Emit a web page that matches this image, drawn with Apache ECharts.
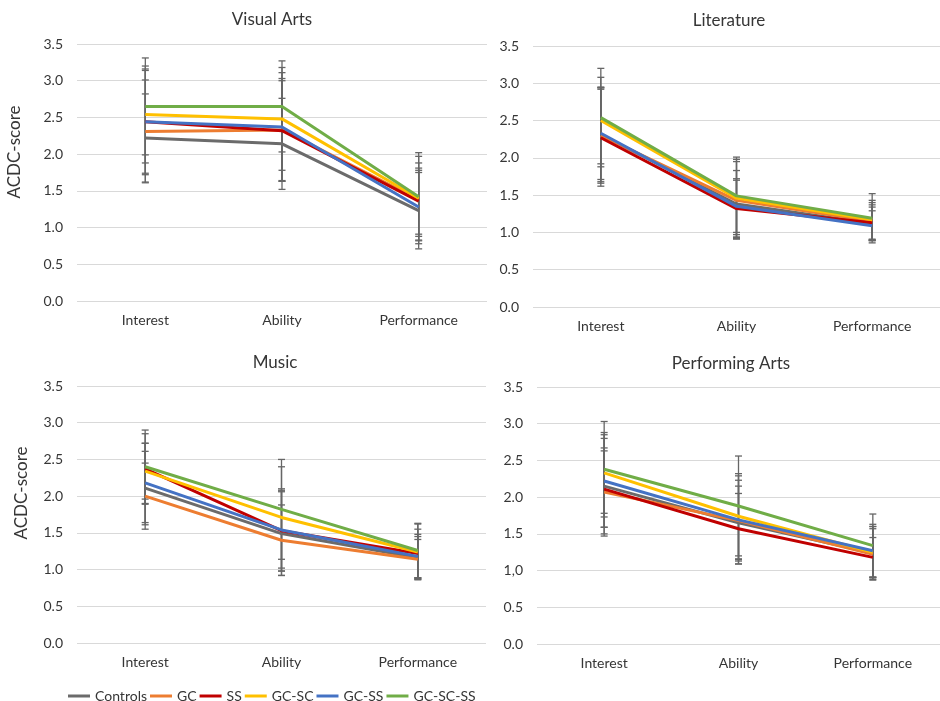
<!DOCTYPE html>
<html>
<head>
<meta charset="utf-8">
<script src="https://cdn.jsdelivr.net/npm/echarts@6/dist/echarts.min.js"></script>
<style>
  html, body { margin: 0; padding: 0; background: #fff; }
  #chart { width: 940px; height: 701px; }
</style>
</head>
<body>
<div id="chart"></div>
<script>
// categories and groups
const categories = ['Interest', 'Ability', 'Performance']
const groups = ['Controls', 'GC', 'SS', 'GC-SC', 'GC-SS', 'GC-SC-SS']
const groupColors = ['#6b6b6b', '#ed7d31', '#c00000', '#ffc000', '#4472c4', '#70ad47']
const panelTitles = ['Visual Arts', 'Literature', 'Music', 'Performing Arts']
const yTicks = ['0.0', '0.5', '1.0', '1.5', '2.0', '2.5', '3.0', '3.5']
const yTicksPerforming = ['0.0', '0.5', '1,0', '1.5', '2.0', '2.5', '3.0', '3.5']

// means per group (rows follow `groups`), columns follow `categories`
const visualArtsMean = [
  [2.22, 2.14, 1.23],
  [2.31, 2.33, 1.38],
  [2.44, 2.32, 1.36],
  [2.54, 2.48, 1.40],
  [2.44, 2.37, 1.28],
  [2.65, 2.65, 1.42]
]
const visualArtsSd = [
  [0.60, 0.62, 0.52],
  [0.70, 0.70, 0.50],
  [0.72, 0.68, 0.45],
  [0.66, 0.70, 0.57],
  [0.70, 0.74, 0.50],
  [0.66, 0.62, 0.60]
]

const literatureMean = [
  [2.31, 1.38, 1.12],
  [2.30, 1.43, 1.15],
  [2.27, 1.32, 1.13],
  [2.50, 1.46, 1.17],
  [2.33, 1.35, 1.09],
  [2.54, 1.49, 1.19]
]
const literatureSd = [
  [0.63, 0.45, 0.22],
  [0.64, 0.52, 0.25],
  [0.65, 0.40, 0.24],
  [0.58, 0.52, 0.26],
  [0.62, 0.35, 0.20],
  [0.66, 0.52, 0.33]
]

const musicMean = [
  [2.11, 1.49, 1.16],
  [2.00, 1.40, 1.14],
  [2.37, 1.53, 1.22],
  [2.34, 1.71, 1.24],
  [2.18, 1.54, 1.18],
  [2.40, 1.82, 1.26]
]
const musicSd = [
  [0.50, 0.57, 0.29],
  [0.45, 0.48, 0.27],
  [0.48, 0.55, 0.33],
  [0.38, 0.69, 0.38],
  [0.54, 0.56, 0.30],
  [0.50, 0.68, 0.37]
]

const performingArtsMean = [
  [2.15, 1.65, 1.24],
  [2.07, 1.68, 1.22],
  [2.11, 1.57, 1.18],
  [2.33, 1.74, 1.25],
  [2.22, 1.69, 1.27],
  [2.38, 1.88, 1.34]
]
const performingArtsSd = [
  [0.65, 0.50, 0.36],
  [0.60, 0.55, 0.35],
  [0.52, 0.48, 0.27],
  [0.55, 0.58, 0.35],
  [0.63, 0.60, 0.36],
  [0.65, 0.68, 0.43]
]

const panels = [
  { title: panelTitles[0], mean: visualArtsMean, sd: visualArtsSd, ticks: yTicks,
    grid: { left: 77, top: 44, width: 410, height: 257 }, titleX: 267, titleY: 6 },
  { title: panelTitles[1], mean: literatureMean, sd: literatureSd, ticks: yTicks,
    grid: { left: 533, top: 46, width: 409, height: 261 }, titleX: 724, titleY: 7 },
  { title: panelTitles[2], mean: musicMean, sd: musicSd, ticks: yTicks,
    grid: { left: 77, top: 386, width: 409, height: 257 }, titleX: 270, titleY: 349 },
  { title: panelTitles[3], mean: performingArtsMean, sd: performingArtsSd, ticks: yTicksPerforming,
    grid: { left: 537, top: 387, width: 407, height: 257 }, titleX: 726, titleY: 350 }
]

const FONT = 'Lato, "Open Sans", sans-serif'
const TEXT = '#363636'

function errorBarItem(params, api) {
  const x = api.value(0)
  const lo = api.coord([x, api.value(1)])
  const hi = api.coord([x, api.value(2)])
  const cap = 3.5
  const style = { stroke: '#666666', lineWidth: 1.3 }
  return {
    type: 'group',
    children: [
      { type: 'line', shape: { x1: lo[0], y1: lo[1], x2: hi[0], y2: hi[1] }, style },
      { type: 'line', shape: { x1: lo[0] - cap, y1: lo[1], x2: lo[0] + cap, y2: lo[1] }, style },
      { type: 'line', shape: { x1: hi[0] - cap, y1: hi[1], x2: hi[0] + cap, y2: hi[1] }, style }
    ]
  }
}

const lineSeries = []
const errorSeries = []
panels.forEach((p, pi) => {
  groups.forEach((g, gi) => {
    lineSeries.push({
      name: g,
      type: 'line',
      xAxisIndex: pi,
      yAxisIndex: pi,
      data: p.mean[gi],
      symbol: 'none',
      z: 3,
      color: groupColors[gi],
      lineStyle: { width: 3, color: groupColors[gi] },
      emphasis: { disabled: true }
    })
    errorSeries.push({
      name: g,
      type: 'custom',
      xAxisIndex: pi,
      yAxisIndex: pi,
      z: 2,
      silent: true,
      renderItem: errorBarItem,
      data: p.mean[gi].map((m, ci) => [ci, m - p.sd[gi][ci], m + p.sd[gi][ci]])
    })
  })
})

const option = {
  animation: false,
  backgroundColor: '#ffffff',
  textStyle: { fontFamily: FONT },
  title: panels.map((p) => ({
    text: p.title,
    left: p.titleX,
    top: p.titleY,
    textAlign: 'center',
    textStyle: { fontFamily: FONT, fontSize: 17, fontWeight: 'normal', color: TEXT }
  })),
  legend: {
    left: 63,
    top: 684,
    itemWidth: 22,
    itemHeight: 3,
    itemGap: 3,
    icon: 'rect',
    data: groups,
    textStyle: { fontFamily: FONT, fontSize: 14, color: TEXT }
  },
  grid: panels.map((p) => Object.assign({}, p.grid)),
  xAxis: panels.map((p, pi) => ({
    type: 'category',
    gridIndex: pi,
    data: categories,
    axisLine: { show: false },
    axisTick: { show: false },
    axisLabel: { margin: 12, fontSize: 14, color: TEXT, fontFamily: FONT }
  })),
  yAxis: panels.map((p, pi) => ({
    type: 'value',
    gridIndex: pi,
    min: 0,
    max: 3.5,
    interval: 0.5,
    axisLine: { show: false },
    axisTick: { show: false },
    splitLine: { lineStyle: { color: '#d9d9d9', width: 1 } },
    axisLabel: {
      margin: 14,
      fontSize: 14,
      color: TEXT,
      fontFamily: FONT,
      formatter: (v) => p.ticks[Math.round(v / 0.5)]
    }
  })),
  graphic: [
    { type: 'text', x: 15, y: 152, rotation: Math.PI / 2,
      style: { text: 'ACDC-score', fontSize: 17, fontFamily: FONT, fill: TEXT, align: 'center', verticalAlign: 'middle' } },
    { type: 'text', x: 22, y: 493, rotation: Math.PI / 2,
      style: { text: 'ACDC-score', fontSize: 17, fontFamily: FONT, fill: TEXT, align: 'center', verticalAlign: 'middle' } }
  ],
  series: lineSeries.concat(errorSeries)
}

const chart = echarts.init(document.getElementById('chart'))
chart.setOption(option)
</script>
</body>
</html>
